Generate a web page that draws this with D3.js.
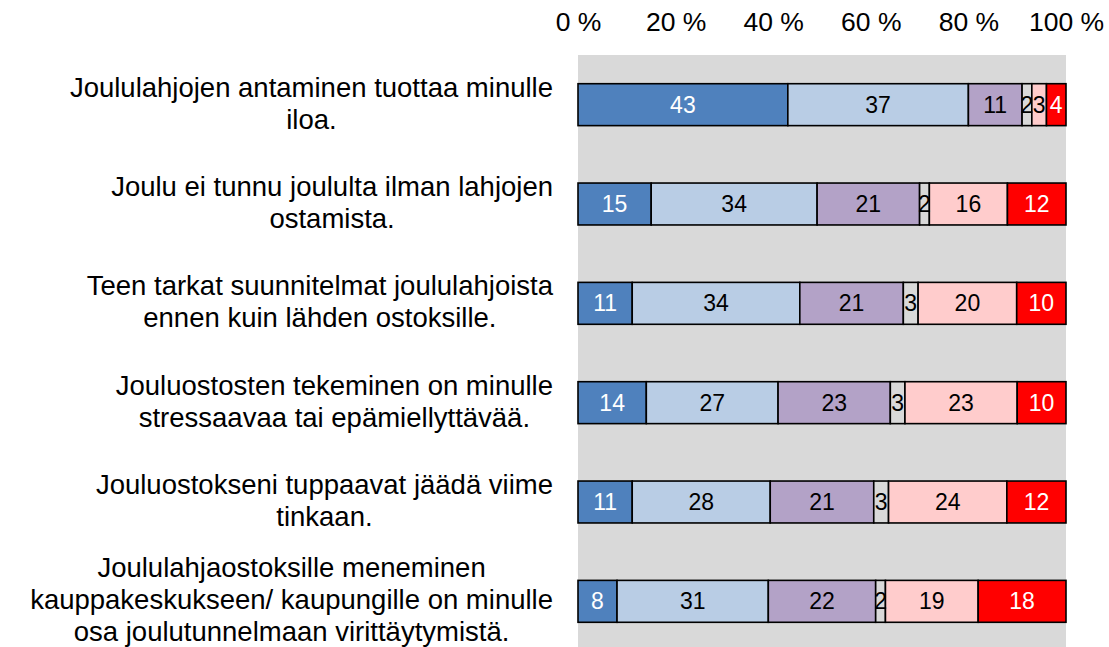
<!DOCTYPE html>
<html><head><meta charset="utf-8">
<script src="https://cdn.jsdelivr.net/npm/d3@7"></script>
<style>body{margin:0;background:#fff}svg{display:block}text{font-family:"Liberation Sans",Arial,sans-serif}</style>
</head><body><svg id="c" width="1109" height="647"></svg>
<script>
const categories = [
  ["Joululahjojen antaminen tuottaa minulle", "iloa."],
  ["Joulu ei tunnu joululta ilman lahjojen", "ostamista."],
  ["Teen tarkat suunnitelmat joululahjoista", "ennen kuin lähden ostoksille."],
  ["Jouluostosten tekeminen on minulle", "stressaavaa tai epämiellyttävää."],
  ["Jouluostokseni tuppaavat jäädä viime", "tinkaan."],
  ["Joululahjaostoksille meneminen", "kauppakeskukseen/ kaupungille on minulle", "osa joulutunnelmaan virittäytymistä."]
];
const series = ["s1", "s2", "s3", "s4", "s5", "s6"];
const s1 = [43, 15, 11, 14, 11, 8];
const s2 = [37, 34, 34, 27, 28, 31];
const s3 = [11, 21, 21, 23, 21, 22];
const s4 = [2, 2, 3, 3, 3, 2];
const s5 = [3, 16, 20, 23, 24, 19];
const s6 = [4, 12, 10, 10, 12, 18];
const tickLabels = ["0 %", "20 %", "40 %", "60 %", "80 %", "100 %"];
const colors = ["#4F81BD", "#B9CDE5", "#B3A2C7", "#D9D9D9", "#FFCCCC", "#FF0000"];
const labelColors = ["#fff", "#000", "#000", "#000", "#000", "#fff"];

const svg = d3.select("#c");
const plot = {x0: 578, x1: 1066, y0: 55, y1: 651};
const rows = categories.map((c, i) => {
  const o = {i};
  [s1, s2, s3, s4, s5, s6].forEach((arr, k) => o[series[k]] = arr[i]);
  return o;
});
const x = d3.scaleLinear().domain([0, 1]).range([plot.x0, plot.x1]);
const y = d3.scaleBand().domain(d3.range(categories.length)).range([plot.y0, plot.y1]).paddingInner(0.578).paddingOuter(0.289);

svg.append("rect").attr("x", plot.x0).attr("y", plot.y0).attr("width", plot.x1 - plot.x0).attr("height", plot.y1 - plot.y0).attr("fill", "#D9D9D9");

const stack = d3.stack().keys(series).offset(d3.stackOffsetExpand);
const layers = stack(rows);
const vals = [s1, s2, s3, s4, s5, s6];

layers.forEach((layer, k) => {
  const g = svg.append("g");
  g.selectAll("rect").data(layer).join("rect")
    .attr("x", d => x(d[0])).attr("y", d => y(d.data.i))
    .attr("width", d => x(d[1]) - x(d[0])).attr("height", y.bandwidth())
    .attr("fill", colors[k]).attr("stroke", "#000").attr("stroke-width", 1.6);
});
layers.forEach((layer, k) => {
  svg.append("g").selectAll("text").data(layer).join("text")
    .attr("x", d => (x(d[0]) + x(d[1])) / 2).attr("y", d => y(d.data.i) + y.bandwidth() / 2)
    .attr("text-anchor", "middle").attr("dominant-baseline", "central")
    .attr("font-size", 23).attr("fill", labelColors[k])
    .text(d => vals[k][d.data.i]);
});

// top axis
const axis = d3.axisTop(x).tickValues(d3.range(0, 1.01, 0.2)).tickFormat((d, i) => tickLabels[i]).tickSize(0).tickPadding(0);
const ax = svg.append("g").attr("transform", "translate(0,31)").call(axis);
ax.select(".domain").remove();
ax.selectAll("text").attr("font-size", 26.5).attr("fill", "#000").attr("font-family", "'Liberation Sans',Arial,sans-serif");

// category labels
const rightEdge = 553;
const lh = 32;
categories.forEach((lines, i) => {
  const g = svg.append("g");
  const cy = y(i) + y.bandwidth() / 2 - 1.5;
  const t = g.append("text").attr("font-size", 27.5).attr("text-anchor", "middle").attr("fill", "#000");
  lines.forEach((ln, j) => {
    t.append("tspan").attr("x", 0).attr("y", cy + (j - (lines.length - 1) / 2) * lh).attr("dominant-baseline", "central").text(ln);
  });
  let w = 0;
  t.selectAll("tspan").each(function() { w = Math.max(w, this.getComputedTextLength()); });
  t.selectAll("tspan").attr("x", rightEdge - w / 2);
});
</script></body></html>
